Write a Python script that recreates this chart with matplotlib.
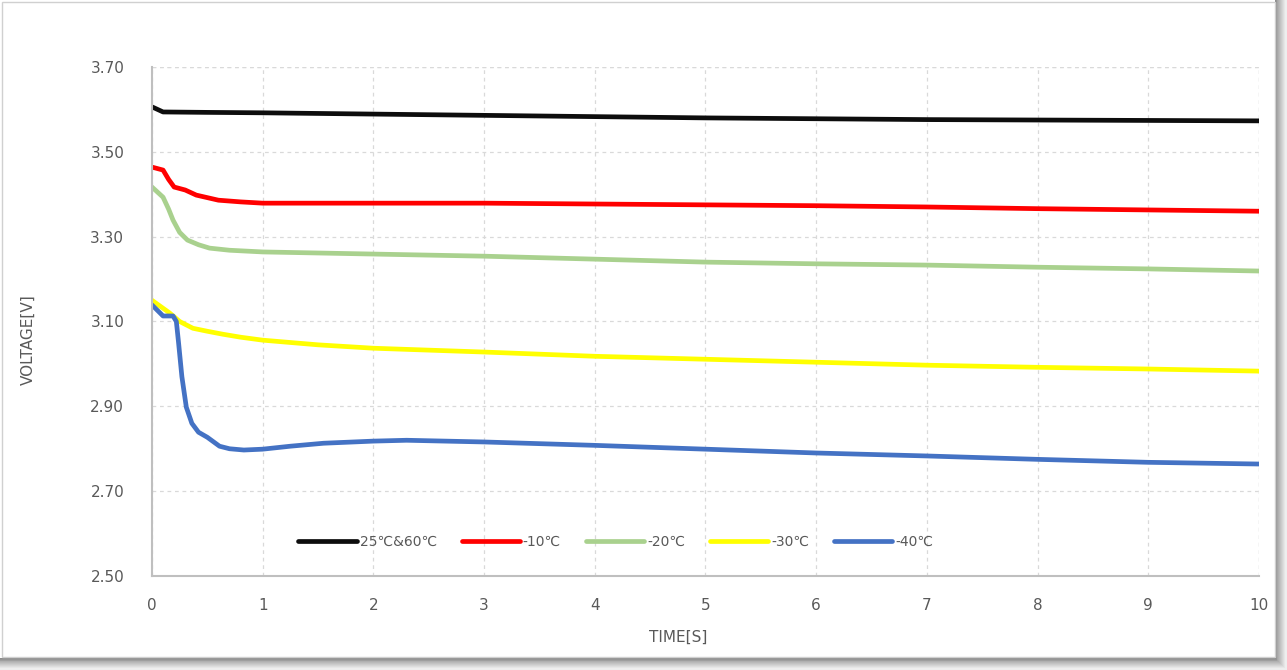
import matplotlib
matplotlib.use("Agg")
import matplotlib.pyplot as plt
from matplotlib.patches import Rectangle

plt.rcParams['font.family'] = ['Liberation Sans Narrow', 'DejaVu Sans']

# Discharge voltage curves at different temperatures
t_black = [0, 0.05, 0.1, 0.5, 1, 2, 3, 4, 5, 6, 7, 8, 9, 10]
v_black = [3.606, 3.600, 3.594, 3.593, 3.592, 3.589, 3.586, 3.583, 3.580, 3.578, 3.576, 3.575, 3.574, 3.573]

t_red = [0, 0.1, 0.15, 0.2, 0.3, 0.4, 0.6, 0.8, 1, 2, 3, 4, 5, 6, 7, 8, 9, 10]
v_red = [3.464, 3.457, 3.435, 3.417, 3.410, 3.398, 3.386, 3.382, 3.379, 3.379, 3.379, 3.377, 3.375, 3.373, 3.370, 3.366, 3.363, 3.360]

t_green = [0, 0.1, 0.15, 0.19, 0.25, 0.32, 0.42, 0.52, 0.7, 1, 2, 3, 4, 5, 6, 7, 8, 9, 10]
v_green = [3.417, 3.393, 3.365, 3.339, 3.310, 3.292, 3.281, 3.273, 3.268, 3.264, 3.259, 3.254, 3.247, 3.240, 3.236, 3.233, 3.228, 3.224, 3.219]

t_yellow = [0, 0.16, 0.25, 0.37, 0.5, 0.64, 0.8, 1, 1.5, 2, 3, 4, 5, 6, 7, 8, 9, 10]
v_yellow = [3.150, 3.120, 3.100, 3.084, 3.077, 3.070, 3.063, 3.056, 3.045, 3.037, 3.028, 3.018, 3.011, 3.004, 2.997, 2.992, 2.988, 2.983]

t_blue = [0, 0.1, 0.19, 0.22, 0.24, 0.27, 0.31, 0.36, 0.42, 0.5, 0.61, 0.7, 0.83, 1.0, 1.25, 1.55, 2, 2.3, 3, 4, 5, 6, 7, 8, 9, 10]
v_blue = [3.139, 3.113, 3.113, 3.100, 3.050, 2.970, 2.898, 2.860, 2.839, 2.827, 2.806, 2.800, 2.797, 2.799, 2.806, 2.813, 2.818, 2.820, 2.816, 2.808, 2.799, 2.790, 2.783, 2.775, 2.768, 2.764]

series = [
    (t_black, v_black, '#0d0d0d', '25℃&60℃'),
    (t_red, v_red, '#ff0000', '-10℃'),
    (t_green, v_green, '#a9d18e', '-20℃'),
    (t_yellow, v_yellow, '#ffff00', '-30℃'),
    (t_blue, v_blue, '#4472c4', '-40℃'),
]

x_ticks = list(range(0, 11))
y_ticks = [2.50, 2.70, 2.90, 3.10, 3.30, 3.50, 3.70]

fig = plt.figure(figsize=(12.87, 6.70), dpi=100)

# Card frame with a soft drop shadow on the right and bottom
shadow_steps = 12
for i in range(shadow_steps):
    g = 0.55 + 0.035 * i
    fig.patches.append(Rectangle((0.9905 + i * 0.0007, 0.0), 0.01, 1.0,
                                 transform=fig.transFigure, facecolor=(g, g, g),
                                 edgecolor='none', zorder=0))
    fig.patches.append(Rectangle((0.0, 0.0), 1.0, 0.018 - i * 0.0013,
                                 transform=fig.transFigure, facecolor=(g, g, g),
                                 edgecolor='none', zorder=0))
fig.patches.append(Rectangle((0.0015, 0.019), 0.989, 0.978,
                             transform=fig.transFigure, facecolor='white',
                             edgecolor='#d0d0d0', linewidth=1.0, zorder=1))

ax = fig.add_axes([0.1181, 0.1403, 0.8601, 0.7597])
ax.set_zorder(2)
ax.patch.set_alpha(0)

for t, v, c, lab in series:
    ax.plot(t, v, color=c, lw=3.4, label=lab, solid_capstyle='round', solid_joinstyle='round')

ax.set_xlim(0, 10)
ax.set_ylim(2.5, 3.7)
ax.set_xticks(x_ticks)
ax.set_yticks(y_ticks)
ax.set_yticklabels([f"{v:.2f}" for v in y_ticks])
ax.tick_params(axis='both', length=0, labelsize=11, colors='#595959')
ax.tick_params(axis='x', pad=16)
ax.tick_params(axis='y', pad=20)

ax.grid(True, color='#d9d9d9', linestyle=(0, (3, 3)), linewidth=0.9)
ax.set_axisbelow(True)
for s in ['top', 'right']:
    ax.spines[s].set_visible(False)
for s in ['left', 'bottom']:
    ax.spines[s].set_color('#bfbfbf')
    ax.spines[s].set_linewidth(1.5)
# dashed boundary at the right and top like the grid
ax.axvline(10, color='#d9d9d9', linestyle=(0, (3, 3)), linewidth=0.9, zorder=0)
ax.axhline(3.7, color='#d9d9d9', linestyle=(0, (3, 3)), linewidth=0.9, zorder=0)

ax.set_xlabel('TIME[S]', fontsize=11, color='#595959')
ax.set_ylabel('VOLTAGE[V]', fontsize=11, color='#595959')
ax.xaxis.set_label_coords(0.475, -0.105)
ax.yaxis.set_label_coords(-0.105, 0.464)

ax.legend(loc='center left', bbox_to_anchor=(0.121, 0.068), ncol=5, frameon=False,
          fontsize=10, handlelength=4.2, handletextpad=0.2, columnspacing=1.8,
          labelcolor='#595959')

fig.savefig('out.png', dpi=100)
